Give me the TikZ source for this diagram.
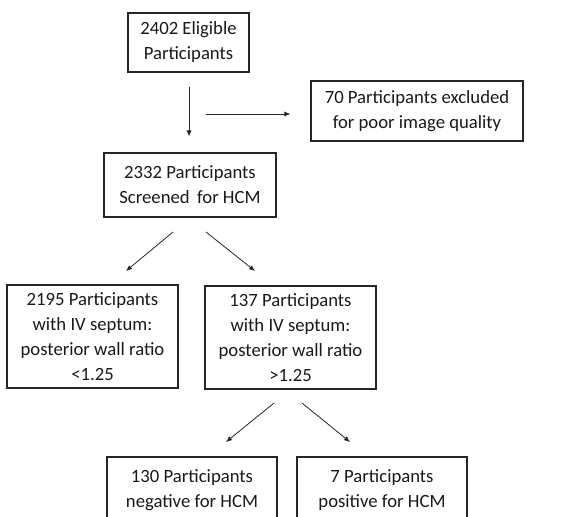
\documentclass[tikz,border=0pt]{standalone}
\usepackage{fontspec}
\setmainfont{Carlito}
\usetikzlibrary{arrows.meta}
\begin{document}
\begin{tikzpicture}[x=1pt,y=-1pt,
  box/.style={draw=black!85,line width=1.1pt,align=center,inner sep=0pt,
    font=\fontsize{18.7pt}{25pt}\selectfont,text=black!90},
  arr/.style={draw=black!85,line width=0.8pt,-{Latex[length=6pt,width=5pt]}}]
\useasboundingbox (0,0) rectangle (587,517);
\clip (0,0) rectangle (587,517);
\node[box,minimum width=121pt,minimum height=59pt] (b1) at (188.5,42.5) {2402 Eligible\\Participants};
\node[box,minimum width=212pt,minimum height=60pt] (ex) at (417,111) {70 Participants excluded\\for poor image quality};
\node[box,minimum width=172pt,minimum height=64pt] (sc) at (190,185) {2332 Participants\\Screened\, for HCM};
\node[box,minimum width=171pt,minimum height=103pt] (lo) at (92.5,336.5) {2195 Participants\\with IV septum:\\posterior wall ratio\\<1.25};
\node[box,minimum width=171pt,minimum height=103pt] (hi) at (290.5,337.5) {137 Participants\\with IV septum:\\posterior wall ratio\\>1.25};
\node[box,minimum width=170pt,minimum height=67pt] (ng) at (192,490.5) {130 Participants\\negative for HCM};
\node[box,minimum width=170pt,minimum height=67pt] (ps) at (382,490.5) {7 Participants\\positive for HCM};
\draw[arr,shorten <=14pt,shorten >=16pt] (b1.south -| 189,0) -- (sc.north -| 189,0);
\coordinate (ex0) at (206,114);
\draw[arr,shorten >=20pt] (ex0) -- (ex.west |- ex0);
\coordinate (s1) at (173,232);
\coordinate (s1e) at (126,271);
\coordinate (s2) at (206,232);
\coordinate (s2e) at (255,271);
\draw[arr] (s1) -- (s1e);
\draw[arr] (s2) -- (s2e);
\coordinate (h1) at (274,403);
\coordinate (h1e) at (226,442);
\coordinate (h2) at (302,403);
\coordinate (h2e) at (350,442);
\draw[arr] (h1) -- (h1e);
\draw[arr] (h2) -- (h2e);
\end{tikzpicture}
\end{document}
